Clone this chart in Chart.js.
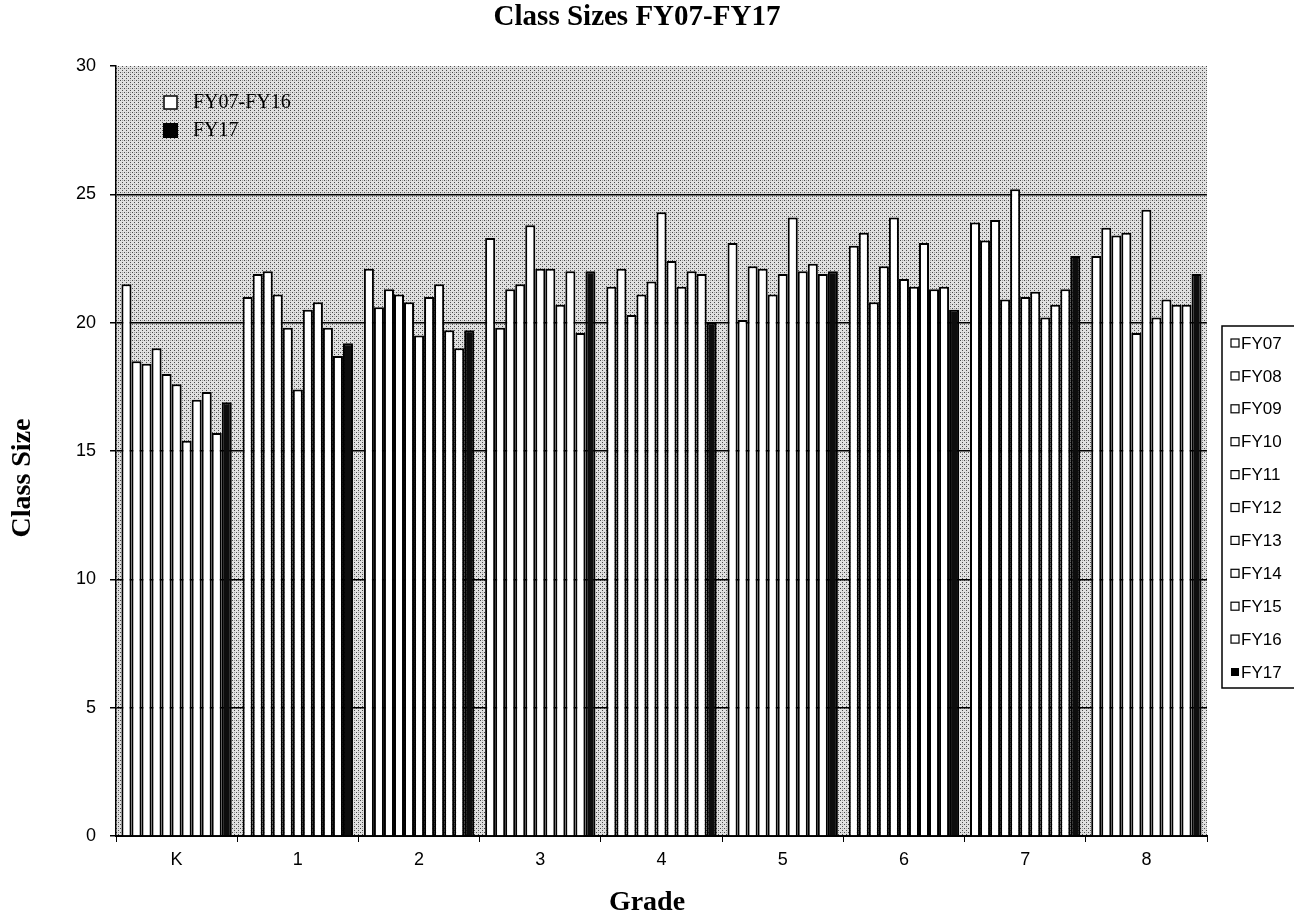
<!DOCTYPE html>
<html>
<head>
<meta charset="utf-8">
<title>Class Sizes FY07-FY17</title>
<script src="https://cdn.jsdelivr.net/npm/chart.js@4.4.1/dist/chart.umd.min.js"></script>
<style>
  body { margin: 0; background: #fff; }
  #wrap { position: relative; width: 1294px; height: 919px; }
</style>
</head>
<body>
<div id="wrap"><canvas id="classChart" width="1294" height="919"></canvas></div>
<script>
// grades on the x axis
const grades = ["K", "1", "2", "3", "4", "5", "6", "7", "8"];
const years = ["FY07", "FY08", "FY09", "FY10", "FY11", "FY12", "FY13", "FY14", "FY15", "FY16", "FY17"];
const yTicks = [0, 5, 10, 15, 20, 25, 30];

// average class size per grade, one array per year
const fy07 = [21.5, 21.0, 22.1, 23.3, 21.4, 23.1, 23.0, 23.9, 22.6];
const fy08 = [18.5, 21.9, 20.6, 19.8, 22.1, 20.1, 23.5, 23.2, 23.7];
const fy09 = [18.4, 22.0, 21.3, 21.3, 20.3, 22.2, 20.8, 24.0, 23.4];
const fy10 = [19.0, 21.1, 21.1, 21.5, 21.1, 22.1, 22.2, 20.9, 23.5];
const fy11 = [18.0, 19.8, 20.8, 23.8, 21.6, 21.1, 24.1, 25.2, 19.6];
const fy12 = [17.6, 17.4, 19.5, 22.1, 24.3, 21.9, 21.7, 21.0, 24.4];
const fy13 = [15.4, 20.5, 21.0, 22.1, 22.4, 24.1, 21.4, 21.2, 20.2];
const fy14 = [17.0, 20.8, 21.5, 20.7, 21.4, 22.0, 23.1, 20.2, 20.9];
const fy15 = [17.3, 19.8, 19.7, 22.0, 22.0, 22.3, 21.3, 20.7, 20.7];
const fy16 = [15.7, 18.7, 19.0, 19.6, 21.9, 21.9, 21.4, 21.3, 20.7];
const fy17 = [16.9, 19.2, 19.7, 22.0, 20.0, 22.0, 20.5, 22.6, 21.9];

const seriesValues = [fy07, fy08, fy09, fy10, fy11, fy12, fy13, fy14, fy15, fy16, fy17];

const serif = '"Liberation Serif", "DejaVu Serif", serif';
const sans = '"Liberation Sans", Arial, sans-serif';

// stippled grey fill for the plot area
function makeStipple() {
    const c = document.createElement('canvas');
    c.width = 4; c.height = 4;
    const g = c.getContext('2d');
    g.fillStyle = '#e0e0e0';
    g.fillRect(0, 0, 4, 4);
    g.fillStyle = '#4a4a4a';
    g.fillRect(0, 0, 1, 1);
    g.fillRect(2, 2, 1, 1);
    g.fillStyle = '#a0a0a0';
    g.fillRect(2, 0, 1, 1);
    return g.createPattern(c, 'repeat');
}
const stipple = makeStipple();

const plotBg = {
    id: 'plotBg',
    beforeDraw(chart) {
        const { ctx, chartArea: a } = chart;
        ctx.save();
        ctx.fillStyle = stipple;
        ctx.fillRect(a.left, a.top, a.right - a.left, a.bottom - a.top);
        ctx.restore();
    }
};

const labelsPlugin = {
    id: 'labelsPlugin',
    afterDraw(chart) {
        const ctx = chart.ctx;
        ctx.save();
        ctx.fillStyle = '#000';
        ctx.strokeStyle = '#000';

        // main title
        ctx.font = 'bold 29px ' + serif;
        ctx.textAlign = 'center';
        ctx.textBaseline = 'middle';
        ctx.fillText('Class Sizes FY07-FY17', 637, 18);

        // axis titles
        ctx.font = 'bold 28px ' + serif;
        ctx.fillText('Grade', 647, 903);
        ctx.save();
        ctx.translate(23, 478);
        ctx.rotate(-Math.PI / 2);
        ctx.fillText('Class Size', 0, 0);
        ctx.restore();

        // inner legend
        ctx.textAlign = 'left';
        ctx.font = '20px ' + serif;
        ctx.lineWidth = 1.5;
        ctx.fillStyle = '#fff';
        ctx.fillRect(164, 96, 13, 13);
        ctx.strokeRect(164, 96, 13, 13);
        ctx.fillStyle = '#000';
        ctx.fillRect(163, 123, 15, 15);
        ctx.fillText('FY07-FY16', 193, 103);
        ctx.fillText('FY17', 193, 131);

        // outer legend box
        ctx.fillStyle = '#fff';
        ctx.fillRect(1222, 326, 80, 362);
        ctx.lineWidth = 1.5;
        ctx.strokeRect(1222, 326, 80, 362);
        ctx.font = '17px ' + sans;
        years.forEach((y, i) => {
            const cy = 343 + i * 32.9;
            ctx.lineWidth = 1.2;
            if (i === years.length - 1) {
                ctx.fillStyle = '#000';
                ctx.fillRect(1231, cy - 4, 8, 8);
            } else {
                ctx.fillStyle = '#fff';
                ctx.fillRect(1231, cy - 4, 8, 8);
                ctx.strokeRect(1231, cy - 4, 8, 8);
            }
            ctx.fillStyle = '#000';
            ctx.fillText(y, 1241, cy + 1);
        });
        ctx.restore();
    }
};

const classCanvas = document.querySelector('#classChart').getContext('2d');

let classChart = new Chart(classCanvas, {
    type: 'bar',
    data: {
        labels: grades,
        datasets: years.map((y, i) => ({
            label: y,
            data: seriesValues[i],
            backgroundColor: i === years.length - 1 ? '#0d0d0d' : '#ffffff',
            borderColor: '#000',
            borderWidth: 2,
            borderSkipped: 'start',
            barPercentage: 1.0,
            categoryPercentage: 0.91
        }))
    },
    options: {
        responsive: false,
        animation: { duration: 0 },
        layout: {
            padding: { left: 60, right: 87, top: 66, bottom: 40 }
        },
        plugins: {
            legend: { display: false },
            title: { display: false },
            tooltip: { enabled: false }
        },
        scales: {
            x: {
                afterFit(axis) { axis.height = 43; },
                grid: {
                    display: true,
                    drawOnChartArea: false,
                    offset: true,
                    color: '#000',
                    tickLength: 6,
                    lineWidth: 1
                },
                border: { display: true, color: '#000', width: 2 },
                ticks: {
                    color: '#000',
                    font: { family: sans, size: 18 },
                    padding: 7
                }
            },
            y: {
                min: 0,
                max: 30,
                afterFit(axis) { axis.width = 56; },
                afterBuildTicks(axis) { axis.ticks = yTicks.map(v => ({ value: v })); },
                grid: {
                    color: ctx => (ctx.tick && ctx.tick.value === 30) ? 'rgba(0,0,0,0)' : '#000',
                    tickColor: '#000',
                    lineWidth: 1.5,
                    tickLength: 6
                },
                border: { display: true, color: '#000', width: 1.5 },
                ticks: {
                    color: '#000',
                    font: { family: sans, size: 18 },
                    padding: 14
                }
            }
        }
    },
    plugins: [plotBg, labelsPlugin]
});
</script>
</body>
</html>
